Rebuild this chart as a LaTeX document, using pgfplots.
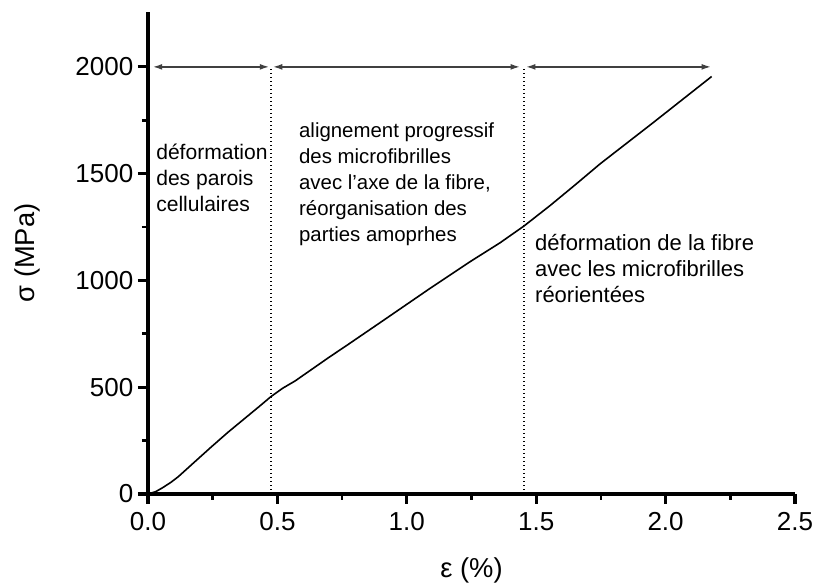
\documentclass[border=0pt]{standalone}
\usepackage{fontspec}
\setmainfont{Liberation Sans}
\usepackage{pgfplots}
\pgfplotsset{compat=1.18}
\usetikzlibrary{arrows.meta}
\begin{document}
\begin{tikzpicture}
\path[use as bounding box] (-111pt,-67.5pt) rectangle (501pt,370.5pt);
\begin{axis}[
  at={(0,0)}, anchor=south west,
  scale only axis, width=485.25pt, height=361.5pt,
  xmin=0, xmax=2.5, ymin=0, ymax=2257,
  axis x line*=bottom, axis y line*=left,
  every outer x axis line/.append style={line width=2.4pt, -},
  every outer y axis line/.append style={line width=2.4pt, -},
  every major tick/.append style={black, line width=2.4pt},
  every minor tick/.append style={black, line width=2pt},
  tick align=outside,
  major tick length=7.5pt, minor tick length=4.5pt,
  xtick={0,0.5,1,1.5,2,2.5}, ytick={0,500,1000,1500,2000},
  minor x tick num=1, minor y tick num=1,
  /pgf/number format/assume math mode=true,
  /pgf/number format/1000 sep={},
  xticklabel style={/pgf/number format/fixed, /pgf/number format/fixed zerofill, /pgf/number format/precision=1, yshift=-3pt},
  tick label style={font=\fontsize{19.5}{21}\selectfont},
  label style={font=\fontsize{20.5}{22}\selectfont},
  xlabel={ε (\%)}, ylabel={σ (MPa)},
  xlabel style={at={(axis description cs:0.5,-0.158)}, anchor=center},
  ylabel style={at={(axis description cs:-0.187,0.5)}, anchor=center},
  clip=false,
]
\addplot[black, line width=1.2pt] coordinates {
(0,0) (0.03,11) (0.06,32) (0.09,56) (0.117,81) (0.18,150) (0.246,222) (0.31,290)
(0.375,355) (0.43,410) (0.475,456) (0.52,495) (0.568,529) (0.703,643) (0.761,690) (0.9,805)
(1.09,963) (1.25,1092) (1.36,1176) (1.453,1255) (1.553,1350) (1.65,1447)
(1.747,1546) (1.95,1737) (2.178,1955)};
\addplot[black, line width=1pt, dotted] coordinates {(0.475,0) (0.475,2000)};
\addplot[black, line width=1pt, dotted] coordinates {(1.453,0) (1.453,2000)};
\addplot[black!75, line width=1.1pt, {Latex[length=7pt,width=4.5pt]}-{Latex[length=7pt,width=4.5pt]}] coordinates {(0.019,2000) (0.468,2000)};
\addplot[black!75, line width=1.1pt, {Latex[length=7pt,width=4.5pt]}-{Latex[length=7pt,width=4.5pt]}] coordinates {(0.483,2000) (1.437,2000)};
\addplot[black!75, line width=1.1pt, {Latex[length=7pt,width=4.5pt]}-{Latex[length=7pt,width=4.5pt]}] coordinates {(1.461,2000) (2.175,2000)};
\node[anchor=west, align=left, inner sep=0pt, font=\fontsize{15.8}{19.5}\selectfont] at (axis cs:0.031,1480) {déformation\\des parois\\cellulaires};
\node[anchor=west, align=left, inner sep=0pt, font=\fontsize{15.3}{19.5}\selectfont] at (axis cs:0.583,1452) {alignement progressif\\des microfibrilles\\avec l'axe de la fibre,\\réorganisation des\\parties amoprhes};
\node[anchor=west, align=left, inner sep=0pt, font=\fontsize{16.5}{19.5}\selectfont] at (axis cs:1.495,1057) {déformation de la fibre\\avec les microfibrilles\\réorientées};
\end{axis}
\end{tikzpicture}
\end{document}
